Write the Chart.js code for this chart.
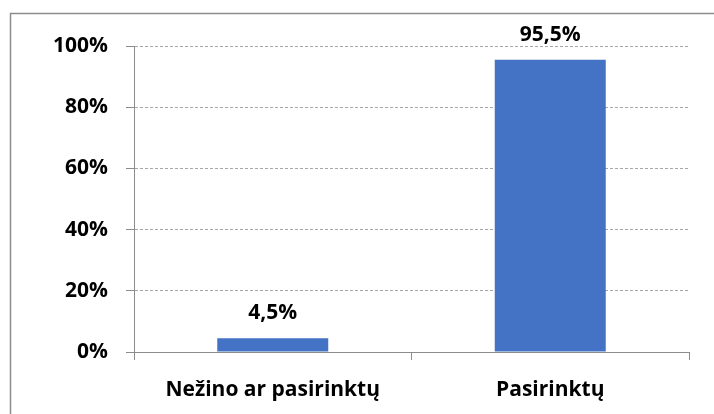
<!DOCTYPE html>
<html>
<head>
<meta charset="utf-8">
<script src="https://cdn.jsdelivr.net/npm/chart.js@4"></script>
<style>
  html, body { margin: 0; padding: 0; background: #fff; }
  #wrap { width: 714px; height: 414px; position: relative; }
</style>
</head>
<body>
<div id="wrap"><canvas id="c" width="714" height="414"></canvas></div>
<script>
const categories = ["Nežino ar pasirinktų", "Pasirinktų"];
const values = [4.5, 95.5];
const valueLabels = ["4,5%", "95,5%"];
const yTickMax = 100;
const yTickStep = 20;

const FONT = "'Open Sans', Lato, sans-serif";

const frame = {
  id: 'frame',
  beforeDraw(chart) {
    const ctx = chart.ctx;
    ctx.save();
    ctx.fillStyle = '#fff';
    ctx.fillRect(0, 0, chart.width, chart.height);
    ctx.strokeStyle = '#8c8c8c';
    ctx.lineWidth = 1.5;
    ctx.strokeRect(10.5, 13.5, chart.width + 20, chart.height + 20);
    ctx.restore();
  }
};

const dataLabels = {
  id: 'dataLabels',
  afterDatasetsDraw(chart) {
    const ctx = chart.ctx;
    const meta = chart.getDatasetMeta(0);
    ctx.save();
    ctx.font = "bold 21px " + FONT;
    ctx.fillStyle = '#000';
    ctx.textAlign = 'center';
    ctx.textBaseline = 'middle';
    meta.data.forEach((bar, i) => {
      ctx.fillText(valueLabels[i], bar.x, bar.y - 25);
    });
    ctx.restore();
  }
};

new Chart(document.getElementById('c'), {
  type: 'bar',
  data: {
    labels: categories,
    datasets: [{
      data: values,
      backgroundColor: '#4472C4',
      borderWidth: 0,
      barPercentage: 0.4,
      categoryPercentage: 1.0
    }]
  },
  options: {
    responsive: false,
    animation: false,
    devicePixelRatio: 1,
    layout: { padding: { left: 0, top: 46, right: 25, bottom: 0 } },
    plugins: { legend: { display: false }, tooltip: { enabled: false } },
    scales: {
      x: {
        offset: true,
        grid: {
          offset: true,
          drawOnChartArea: false,
          drawTicks: true,
          tickLength: 8,
          tickColor: '#8c8c8c',
          tickWidth: 1
        },
        border: { display: true, color: '#8c8c8c', width: 1 },
        ticks: {
          color: '#000',
          font: { family: FONT, size: 21, weight: 'bold' },
          padding: 17
        },
        afterFit(scale) { scale.height = 62; }
      },
      y: {
        min: 0,
        max: yTickMax,
        ticks: {
          stepSize: yTickStep,
          color: '#000',
          font: { family: FONT, size: 21, weight: 'bold' },
          padding: 18,
          callback: v => v + '%'
        },
        grid: {
          color: '#a6a6a6',
          lineWidth: 1,
          drawTicks: true,
          tickLength: 8,
          tickColor: '#8c8c8c',
          tickWidth: 1,
          tickBorderDash: []
        },
        border: { display: true, color: '#8c8c8c', width: 1, dash: [3, 2] },
        afterFit(scale) { scale.width = 134; }
      }
    }
  },
  plugins: [frame, dataLabels]
});
</script>
</body>
</html>
